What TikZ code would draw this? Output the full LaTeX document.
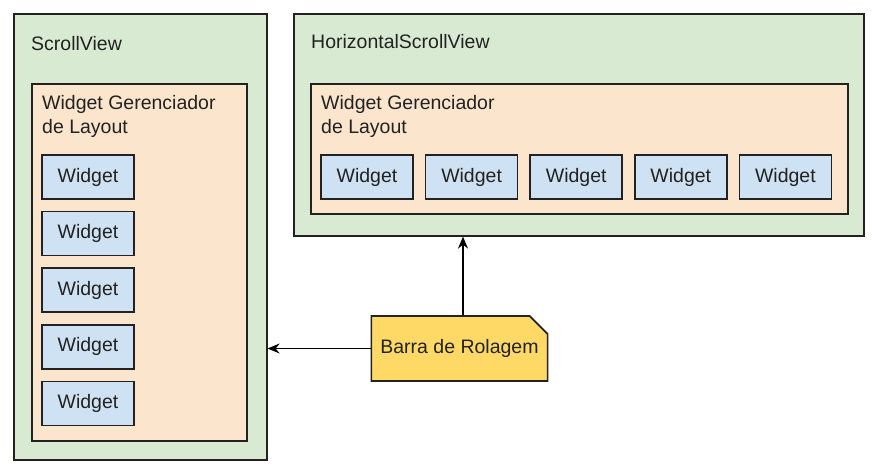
\documentclass[tikz,border=0pt]{standalone}
\usepackage{fontspec}
\setmainfont{Liberation Sans}
\usetikzlibrary{arrows.meta,positioning,shapes.misc}
\definecolor{svgreen}{HTML}{D9EAD3}
\definecolor{lmorange}{HTML}{FCE5CD}
\definecolor{wblue}{HTML}{CFE2F3}
\definecolor{noteyellow}{HTML}{FFD966}
\definecolor{inkgray}{HTML}{222222}
\tikzstyle{arrow} = [line width=1.4pt,->,>={Stealth[length=12pt,width=10pt]}]
\tikzstyle{container}=[draw=inkgray, fill=svgreen, line width=1.6pt, anchor=north west, inner sep=0pt]
\tikzstyle{layoutbox}=[draw=inkgray, fill=lmorange, line width=1.6pt, anchor=north west, inner sep=0pt]
\tikzstyle{widget}=[draw=inkgray, fill=wblue, line width=1.6pt, minimum width=92pt, minimum height=44pt, inner sep=0pt]
\tikzstyle{boxtitle}=[anchor=west, inner sep=0pt, align=left]
\tikzstyle{note}=[draw=inkgray, fill=noteyellow, line width=1.6pt, chamfered rectangle, chamfered rectangle corners=north east, chamfered rectangle xsep=9pt, chamfered rectangle ysep=9pt, minimum width=175pt, minimum height=65pt, inner sep=0pt]

\begin{document}
\begin{tikzpicture}[x=1pt, y=-1pt, font=\fontsize{19.5}{24}\selectfont, text=inkgray]
    \useasboundingbox (0,0) rectangle (879,476);
    % containers
    \node (sv)  [container, minimum width=253pt, minimum height=446pt] at (13,13)  {};
    \node (hsv) [container, minimum width=570pt, minimum height=222pt] at (293,13) {};
    \node (svl)  [layoutbox, minimum width=215pt, minimum height=357pt] at (31,83)  {};
    \node (hsvl) [layoutbox, minimum width=537pt, minimum height=130pt] at (310,83) {};
    \node (svt)  [boxtitle] at (31,44)  {ScrollView};
    \node (hsvt) [boxtitle] at (311,42) {HorizontalScrollView};
    \node (svlt)  [boxtitle] at (42,116)  {Widget Gerenciador\\de Layout};
    \node (hsvlt) [boxtitle] at (321,116) {Widget Gerenciador\\de Layout};
    % vertical widgets
    \node (v1) [widget] at (88,177) {Widget};
    \node (v2) [widget, below=11pt of v1] {Widget};
    \node (v3) [widget, below=11pt of v2] {Widget};
    \node (v4) [widget, below=11pt of v3] {Widget};
    \node (v5) [widget, below=11pt of v4] {Widget};
    % horizontal widgets
    \node (h1) [widget] at (367,177) {Widget};
    \node (h2) [widget, right=11pt of h1] {Widget};
    \node (h3) [widget, right=11pt of h2] {Widget};
    \node (h4) [widget, right=11pt of h3] {Widget};
    \node (h5) [widget, right=11pt of h4] {Widget};
    % scroll bar
    \node (bar) [note] at (459.5,348.5) {Barra de Rolagem};
    \draw [arrow] (bar.west) -- (bar.west -| sv.east);
    \draw [arrow] ([xshift=3.5pt]bar.north) -- ([xshift=3.5pt]bar.north |- hsv.south);
\end{tikzpicture}
\end{document}
